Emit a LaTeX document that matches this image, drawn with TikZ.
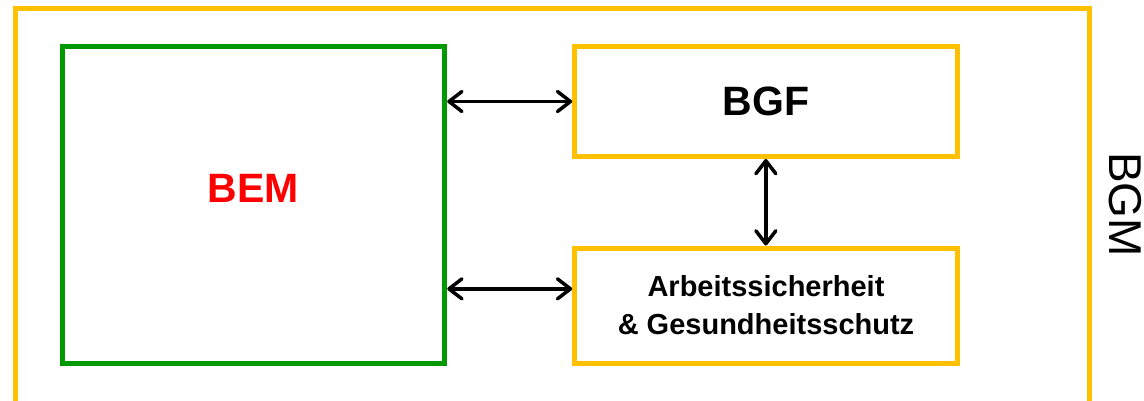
\documentclass[tikz,border=0pt]{standalone}
\usepackage{fontspec}
\setmainfont{Liberation Sans}
\usetikzlibrary{arrows.meta,calc}
\definecolor{gelb}{HTML}{FFC000}
\definecolor{gruen}{HTML}{009900}
\definecolor{rot}{HTML}{FF0000}
\begin{document}
\begin{tikzpicture}[x=1pt,y=-1pt,
  ybox/.style={draw=gelb,line width=5pt,inner sep=0pt,rectangle},
  gbox/.style={draw=gruen,line width=5pt,inner sep=0pt,rectangle},
  arr/.style={line width=3.5pt,line cap=round,{Straight Barb[length=13pt,width=20pt,line cap=round,line join=round]}-{Straight Barb[length=13pt,width=20pt,line cap=round,line join=round]}},
  big/.style={inner sep=0pt,font=\fontsize{41}{41}\selectfont\bfseries}]
\useasboundingbox (0,0) rectangle (1144,400);
\node[ybox,minimum width=1074pt,minimum height=394.5pt] (frame) at (552,205.75) {};
\node[gbox,minimum width=382.7pt,minimum height=317.2pt] (bem) at (253.35,205.1) {};
\node[ybox,minimum width=382.3pt,minimum height=110pt] (bgf) at (765.85,101.5) {};
\node[ybox,minimum width=382.3pt,minimum height=115.7pt] (asg) at (765.85,305.85) {};
\node[big,text=rot] (bemt) at (253,188) {BEM};
\node[big] (bgft) at (766,101.6) {BGF};
\node[inner sep=0pt,align=center,font=\fontsize{29}{38}\selectfont\bfseries] (asgt) at (766,305) {Arbeitssicherheit\\\& Gesundheitsschutz};
\node[inner sep=0pt,rotate=-90,font=\fontsize{46}{46}\selectfont] (bgm) at (1125,204.5) {BGM};
\coordinate (ap) at ([yshift=17pt]asg.west);
\draw[arr] (bem.east |- bgf.west) -- (bgf.west);
\draw[arr] (bem.east |- ap) -- (ap);
\draw[arr] (bgf.south) -- (asg.north);
\end{tikzpicture}
\end{document}
